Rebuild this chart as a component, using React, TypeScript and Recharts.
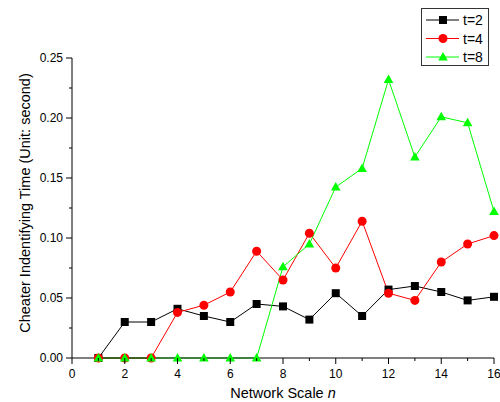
import { LineChart, Line, XAxis, YAxis, Legend } from 'recharts';

const scale = [1, 2, 3, 4, 5, 6, 7, 8, 9, 10, 11, 12, 13, 14, 15, 16];
const t2 = [0, 0.03, 0.03, 0.041, 0.035, 0.03, 0.045, 0.043, 0.032, 0.054, 0.035, 0.057, 0.06, 0.055, 0.048, 0.051];
const t4 = [0, 0, 0, 0.038, 0.044, 0.055, 0.089, 0.065, 0.104, 0.075, 0.114, 0.054, 0.048, 0.08, 0.095, 0.102];
const t8 = [0, 0, 0, 0, 0, 0, 0, 0.076, 0.095, 0.1425, 0.158, 0.232, 0.1675, 0.201, 0.196, 0.122];

const xTicks = [0, 1, 2, 3, 4, 5, 6, 7, 8, 9, 10, 11, 12, 13, 14, 15, 16];
const yTicks = [0, 0.025, 0.05, 0.075, 0.1, 0.125, 0.15, 0.175, 0.2, 0.225, 0.25];

const data = scale.map((n, i) => ({ n, t2: t2[i], t4: t4[i], t8: t8[i] }));

const FONT = '"Liberation Sans", Arial, sans-serif';

type Shape = 'square' | 'circle' | 'triangle';

const series: { key: string; name: string; color: string; shape: Shape }[] = [
  { key: 't2', name: 't=2', color: '#000000', shape: 'square' },
  { key: 't4', name: 't=4', color: '#ff0000', shape: 'circle' },
  { key: 't8', name: 't=8', color: '#00ff00', shape: 'triangle' },
];

function marker(shape: Shape, cx: number, cy: number, color: string, key?: string) {
  if (shape === 'square') return <rect key={key} x={cx - 4} y={cy - 4} width={8} height={8} fill={color} />;
  if (shape === 'circle') return <circle key={key} cx={cx} cy={cy} r={4.5} fill={color} />;
  return <polygon key={key} points={`${cx},${cy - 5} ${cx + 4.8},${cy + 3.5} ${cx - 4.8},${cy + 3.5}`} fill={color} />;
}

const XTick = ({ x, y, payload }: any) => {
  const major = payload.value % 2 === 0;
  return (
    <g>
      <line x1={x} y1={y} x2={x} y2={y + (major ? 6 : 3)} stroke="#000" />
      {major && (
        <text x={x} y={y + 20} textAnchor="middle" fontSize={12} fontFamily={FONT} fill="#000">
          {payload.value}
        </text>
      )}
    </g>
  );
};

const YTick = ({ x, y, payload }: any) => {
  const major = Math.round(payload.value / 0.025) % 2 === 0;
  return (
    <g>
      <line x1={x} y1={y} x2={x - (major ? 6 : 3)} y2={y} stroke="#000" />
      {major && (
        <text x={x - 9} y={y + 4} textAnchor="end" fontSize={12} fontFamily={FONT} fill="#000">
          {payload.value.toFixed(2)}
        </text>
      )}
    </g>
  );
};

const LegendBox = () => (
  <div style={{ border: '1px solid #333', background: '#fff', width: 68, height: 58, boxSizing: 'border-box' }}>
    <svg width={66} height={56}>
      {series.map((s, i) => {
        const cy = 11 + i * 18.5;
        return (
          <g key={s.key}>
            <line x1={4} y1={cy} x2={37} y2={cy} stroke={s.color} />
            {marker(s.shape, 21, cy, s.color)}
            <text x={41} y={cy + 5} fontSize={14} fontFamily={FONT} fill="#000">{s.name}</text>
          </g>
        );
      })}
    </svg>
  </div>
);

export default function App() {
  return (
    <div style={{ position: 'absolute', left: 0, top: 0, background: '#fff' }}>
      <LineChart width={500} height={402} data={data} margin={{ top: 58, right: 6, bottom: 0, left: 0 }}>
        <XAxis
          dataKey="n"
          type="number"
          domain={[0, 16]}
          ticks={xTicks}
          interval={0}
          tick={<XTick />}
          tickLine={false}
          tickSize={0}
          tickMargin={0}
          height={44}
          axisLine={{ stroke: '#000' }}
          label={{
            content: ({ viewBox }: any) => (
              <text x={viewBox.x + viewBox.width / 2} y={viewBox.y + 40} textAnchor="middle" fontSize={14.5} fontFamily={FONT} fill="#000">
                Network Scale <tspan fontStyle="italic">n</tspan>
              </text>
            ),
          }}
        />
        <YAxis
          type="number"
          domain={[0, 0.25]}
          ticks={yTicks}
          interval={0}
          tick={<YTick />}
          tickLine={false}
          tickSize={0}
          tickMargin={0}
          width={72}
          axisLine={{ stroke: '#000' }}
          label={{
            content: ({ viewBox }: any) => {
              const cx = viewBox.x + 25;
              const cy = viewBox.y + viewBox.height / 2 - 5;
              return (
                <text x={cx} y={cy} transform={`rotate(-90, ${cx}, ${cy})`} textAnchor="middle" dominantBaseline="central" fontSize={14.5} fontFamily={FONT} fill="#000">
                  Cheater Indentifying Time (Unit: second)
                </text>
              );
            },
          }}
        />
        <Legend
          layout="horizontal"
          verticalAlign="middle"
          wrapperStyle={{ left: 421, top: 8, width: 'auto' }}
          content={() => <LegendBox />}
        />
        {series.map((s) => (
          <Line
            key={s.key}
            dataKey={s.key}
            name={s.name}
            stroke={s.color}
            strokeWidth={1}
            isAnimationActive={false}
            dot={(p: any) => marker(s.shape, p.cx, p.cy, s.color, `${s.key}-${p.index}`)}
          />
        ))}
      </LineChart>
    </div>
  );
}
